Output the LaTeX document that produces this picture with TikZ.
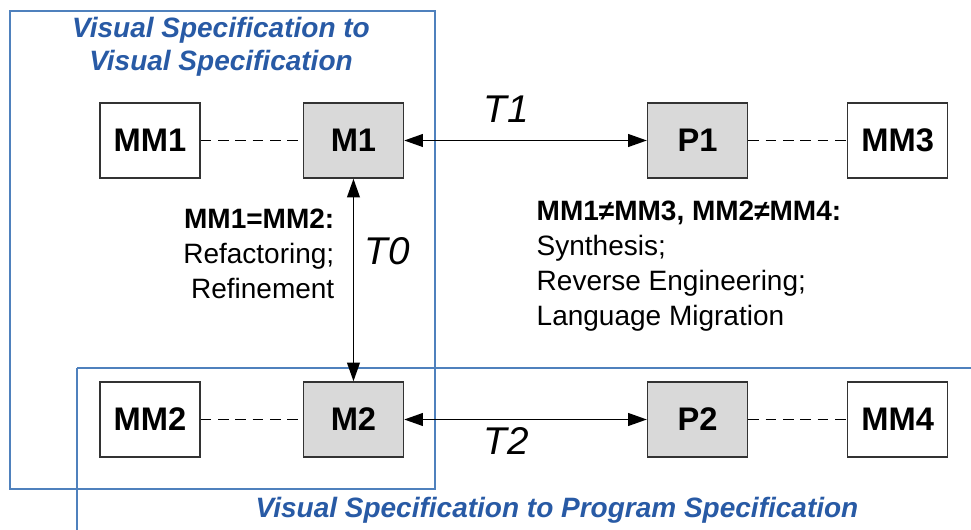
\documentclass[tikz,border=0pt]{standalone}
\usepackage{fontspec}
\setmainfont{Liberation Sans}
\usetikzlibrary{arrows.meta,positioning}
\definecolor{frameblue}{RGB}{79,129,189}
\definecolor{titleblue}{RGB}{40,90,165}
\definecolor{boxgray}{RGB}{217,217,217}

\begin{document}
\begin{tikzpicture}[
  x=0.75pt, y=-0.75pt,
  mbox/.style={draw=black!80, line width=1.1pt, minimum width=75pt, minimum height=56.25pt, inner sep=0pt, font=\fontsize{24.5}{28}\selectfont\bfseries},
  gbox/.style={mbox, fill=boxgray},
  link/.style={dash pattern=on 8pt off 5pt, line width=1.3pt},
  arrow/.style={{Triangle[length=14pt,width=9.5pt]}-{Triangle[length=14pt,width=9.5pt]}, line width=1.4pt},
  frame/.style={draw=frameblue, line width=0.9pt},
  title/.style={text=titleblue, font=\fontsize{21}{24.75}\selectfont\bfseries\itshape, align=center},
  note/.style={font=\fontsize{21}{26.25}\selectfont},
  tlabel/.style={font=\fontsize{29}{32}\selectfont\itshape}
]
\useasboundingbox (0,0) rectangle (971,530);
% frames
\draw[frame] (10,11) rectangle (435,489);
\draw[frame] (77,368) -- (980,368);
\draw[frame] (77,368) -- (77,540);
\node[title] (vtv) at (221,47) {Visual Specification to\\Visual Specification};
\node[title] (vtp) at (557,510) {Visual Specification to Program Specification};
% top row
\node[mbox] (mm1) at (150,140.5) {MM1};
\node[gbox, right=76.5pt of mm1] (m1) {M1};
\node[gbox, right=182pt of m1] (p1) {P1};
\node[mbox, right=74pt of p1] (mm3) {MM3};
% bottom row
\node[mbox] (mm2) at (150,419.5) {MM2};
\node[gbox, right=76.5pt of mm2] (m2) {M2};
\node[gbox, right=182pt of m2] (p2) {P2};
\node[mbox, right=74pt of p2] (mm4) {MM4};
% connectors
\draw[link] (mm1) -- (m1);
\draw[link] (p1) -- (mm3);
\draw[link] (mm2) -- (m2);
\draw[link] (p2) -- (mm4);
\draw[arrow] (m1) -- (p1);
\draw[arrow] (m2) -- (p2);
\draw[arrow] (m1) -- (m2);
% labels
\node[tlabel] (t1) at (506,109) {T1};
\node[tlabel] (t2) at (506,441) {T2};
\node[tlabel] (t0) at (387,251) {T0};
\node[note, align=right, anchor=east] (same) at (339,254) {\textbf{MM1=MM2:}\\Refactoring;\\Refinement};
\node[note, align=left, anchor=west] (diff) at (532,266) {\textbf{MM1≠MM3, MM2≠MM4:}\\Synthesis;\\Reverse Engineering;\\Language Migration};
\end{tikzpicture}
\end{document}
